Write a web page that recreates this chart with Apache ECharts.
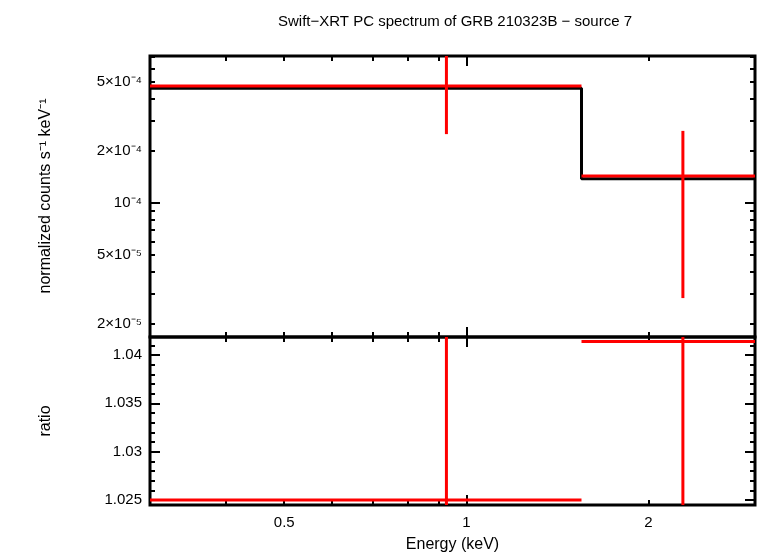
<!DOCTYPE html>
<html lang="en">
<head>
<meta charset="UTF-8">
<title>spectrum</title>
<script src="https://cdn.jsdelivr.net/npm/echarts@6/dist/echarts.min.js"></script>
</head>
<body style="margin:0">
<div id="main" style="width:758px;height:556px;"></div>
<script>
// energy bins (keV) and values
var binLo = [0.3, 1.55];
var binHi = [1.55, 3.0];
var binMid = [0.927, 2.28];
var rate = [4.75e-4, 1.43e-4];
var rateLo = [2.5e-4, 2.82e-5];
var rateHi = [7.5e-4, 2.61e-4];
var model = [4.6e-4, 1.38e-4];
var ratio = [1.025, 1.0414];
var ratioLo = [1.0, 1.0];
var ratioHi = [1.06, 1.06];

var xMinor = [0.3, 0.4, 0.5, 0.6, 0.7, 0.8, 0.9, 2, 3];
var xMajor = [1];
var xLabels = [0.5, 1, 2];
var yMinor = [2e-5, 3e-5, 4e-5, 5e-5, 6e-5, 7e-5, 8e-5, 9e-5, 2e-4, 3e-4, 4e-4, 5e-4, 6e-4, 7e-4];
var yMajor = [1e-4];
var yLabels = [2e-5, 5e-5, 1e-4, 2e-4, 5e-4];
var rMinor = [1.025, 1.026, 1.027, 1.028, 1.029, 1.031, 1.032, 1.033, 1.034, 1.036, 1.037, 1.038, 1.039, 1.041];
var rMajor = [1.025, 1.03, 1.035, 1.04];

var L = Math.log10;
var font = 'Liberation Sans';
var sup = {'-': '⁻', '4': '⁴', '5': '⁵'};

function yFmt(v) {
    var val = Math.pow(10, v);
    var e = Math.floor(v + 1e-9);
    var m = Math.round(val / Math.pow(10, e));
    var s = '10' + ('-' + Math.abs(e)).split('').map(function (c) { return sup[c]; }).join('');
    return m === 1 ? s : m + '×' + s;
}

var xAxes = [], yAxes = [];
function addX(grid, vals, len, pos, labels, fmt) {
    xAxes.push({
        type: 'value', gridIndex: grid, position: pos, min: L(0.3), max: L(3.0),
        axisLine: {show: false, onZero: false}, splitLine: {show: false},
        axisTick: {show: true, inside: true, length: len, customValues: vals.map(L), lineStyle: {color: '#000', width: 2}},
        axisLabel: {show: !!labels, customValues: (labels || []).map(L), formatter: fmt, color: '#000', fontSize: 15, fontFamily: font, margin: 10}
    });
}
function addY(grid, vals, len, pos, min, max, tf, labels, fmt) {
    yAxes.push({
        type: 'value', gridIndex: grid, position: pos, min: min, max: max,
        axisLine: {show: false, onZero: false}, splitLine: {show: false},
        axisTick: {show: true, inside: true, length: len, customValues: vals.map(tf), lineStyle: {color: '#000', width: 2}},
        axisLabel: {show: !!labels, customValues: (labels || []).map(tf), formatter: fmt, color: '#000', fontSize: 15, fontFamily: font, margin: 8}
    });
}
var id = function (v) { return v; };
var xfmt = function (v) { return String(Math.round(Math.pow(10, v) * 10) / 10); };
var yMin = L(1.68e-5), yMax = L(7.07e-4), rMin = 1.02448, rMax = 1.04186;

// grid 0 (spectrum)
addX(0, xMinor, 5, 'bottom'); addX(0, xMajor, 10, 'bottom');
addX(0, xMinor, 5, 'top'); addX(0, xMajor, 10, 'top');
addY(0, yMinor, 5, 'left', yMin, yMax, L, yLabels, yFmt); addY(0, yMajor, 10, 'left', yMin, yMax, L);
addY(0, yMinor, 5, 'right', yMin, yMax, L); addY(0, yMajor, 10, 'right', yMin, yMax, L);
// grid 1 (ratio)
addX(1, xMinor, 5, 'bottom', xLabels, xfmt); addX(1, xMajor, 10, 'bottom');
addX(1, xMinor, 5, 'top'); addX(1, xMajor, 10, 'top');
addY(1, rMinor, 5, 'left', rMin, rMax, id); addY(1, rMajor, 10, 'left', rMin, rMax, id, rMajor, function (v) { return String(Math.round(v * 1000) / 1000); });
addY(1, rMinor, 5, 'right', rMin, rMax, id); addY(1, rMajor, 10, 'right', rMin, rMax, id);

xAxes[4].name = 'Energy (keV)';
xAxes[4].nameLocation = 'middle';
xAxes[4].nameGap = 32;
xAxes[4].nameTextStyle = {color: '#000', fontSize: 16, fontFamily: font};

function crossData(ty) {
    var out = [];
    for (var i = 0; i < binLo.length; i++) {
        if (ty === 0) out.push([L(binLo[i]), L(binHi[i]), L(binMid[i]), L(rate[i]), L(rateLo[i]), L(rateHi[i])]);
        else out.push([L(binLo[i]), L(binHi[i]), L(binMid[i]), ratio[i], ratioLo[i], ratioHi[i]]);
    }
    return out;
}
function renderCross(params, api) {
    var a = api.coord([api.value(0), api.value(3)]);
    var b = api.coord([api.value(1), api.value(3)]);
    var c = api.coord([api.value(2), api.value(4)]);
    var d = api.coord([api.value(2), api.value(5)]);
    var st = {stroke: '#ff0000', lineWidth: 3};
    return {type: 'group', children: [
        {type: 'line', shape: {x1: a[0], y1: a[1], x2: b[0], y2: b[1]}, style: st},
        {type: 'line', shape: {x1: c[0], y1: c[1], x2: d[0], y2: d[1]}, style: st}
    ]};
}

var modelLine = [];
for (var i = 0; i < binLo.length; i++) {
    modelLine.push([L(binLo[i]), L(model[i])]);
    modelLine.push([L(binHi[i]), L(model[i])]);
}

var myChart = echarts.init(document.getElementById('main'));
myChart.setOption({
    animation: false,
    title: {text: 'Swift\u2212XRT PC spectrum of GRB 210323B \u2212 source 7', left: 450, top: 9, textAlign: 'center',
        textStyle: {color: '#000', fontSize: 15, fontWeight: 'normal', fontFamily: font}},
    graphic: [
        {type: 'text', rotation: Math.PI / 2, x: 46, y: 196, style: {text: 'normalized counts s⁻¹ keV⁻¹', fontSize: 16, fontFamily: font, fill: '#000', textAlign: 'center', textVerticalAlign: 'middle'}},
        {type: 'text', rotation: Math.PI / 2, x: 46, y: 421, style: {text: 'ratio', fontSize: 16, fontFamily: font, fill: '#000', textAlign: 'center', textVerticalAlign: 'middle'}}
    ],
    grid: [
        {left: 150, right: 3, top: 56, height: 281, show: true, borderColor: '#000', borderWidth: 3, backgroundColor: 'transparent'},
        {left: 150, right: 3, top: 337, height: 168, show: true, borderColor: '#000', borderWidth: 3, backgroundColor: 'transparent'}
    ],
    xAxis: xAxes,
    yAxis: yAxes,
    series: [
        {type: 'line', xAxisIndex: 0, yAxisIndex: 0, data: modelLine, showSymbol: false, lineStyle: {color: '#000', width: 3}, clip: true, z: 3},
        {type: 'custom', xAxisIndex: 0, yAxisIndex: 0, data: crossData(0), renderItem: renderCross, clip: true, z: 4},
        {type: 'custom', xAxisIndex: 4, yAxisIndex: 4, data: crossData(1), renderItem: renderCross, clip: true, z: 4}
    ]
});
</script>
</body>
</html>
